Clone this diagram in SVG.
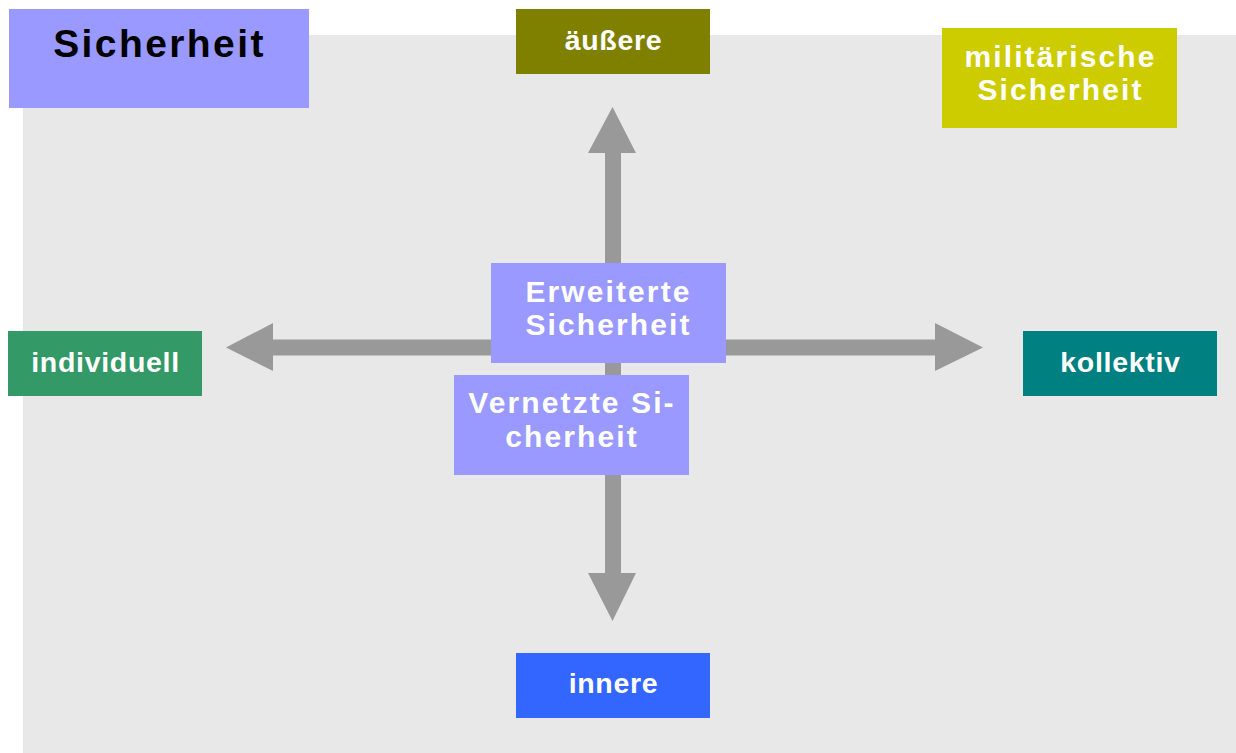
<svg xmlns="http://www.w3.org/2000/svg" width="1236" height="753" viewBox="0 0 1236 753">
<style>
.t{font-family:"Liberation Sans",Arial,sans-serif;font-weight:bold;fill:#fff;text-anchor:middle}
.s{font-size:28.5px;letter-spacing:0.7px}
.m{font-size:30px;letter-spacing:2.1px}
.big{font-size:39px;letter-spacing:2.4px;fill:#000}
.arr{fill:#999999}
</style>
<rect x="23" y="35" width="1213" height="718" fill="#e8e8e8"/>
<g id="connectors">
<polygon class="arr" points="605,153 588,153 612.5,107 636,153 621,153 621,573 636,573 612.5,621 588,573 605,573"/>
<polygon class="arr" points="273,339.5 273,323 226,347.5 273,371 273,355.5 935,355.5 935,371 983,347.5 935,323 935,339.5"/>
</g>
<g id="sicherheit">
<rect x="9" y="9" width="300" height="99" fill="#9999ff"/>
<text class="t big" x="159.5" y="57">Sicherheit</text>
</g>
<g id="aeussere">
<rect x="516" y="9" width="194" height="65" fill="#808000"/>
<text class="t s" x="613.5" y="50">äußere</text>
</g>
<g id="militaerische">
<rect x="942" y="28" width="235" height="100" fill="#cccc00"/>
<text class="t m" x="1060.5" y="67">militärische</text>
<text class="t m" x="1060.5" y="100">Sicherheit</text>
</g>
<g id="individuell">
<rect x="8" y="331" width="194" height="65" fill="#339966"/>
<text class="t s" x="105.5" y="372">individuell</text>
</g>
<g id="kollektiv">
<rect x="1023" y="331" width="194" height="65" fill="#008080"/>
<text class="t s" x="1120.5" y="372">kollektiv</text>
</g>
<g id="innere">
<rect x="516" y="653" width="194" height="65" fill="#3366ff"/>
<text class="t s" x="613.5" y="693">innere</text>
</g>
<g id="erweiterte">
<rect x="491" y="263" width="235" height="100" fill="#9999ff"/>
<text class="t m" x="608.5" y="302">Erweiterte</text>
<text class="t m" x="608.5" y="335">Sicherheit</text>
</g>
<g id="vernetzte">
<rect x="454" y="375" width="235" height="100" fill="#9999ff"/>
<text class="t m" x="572" y="413">Vernetzte Si-</text>
<text class="t m" x="572" y="447">cherheit</text>
</g>
</svg>
